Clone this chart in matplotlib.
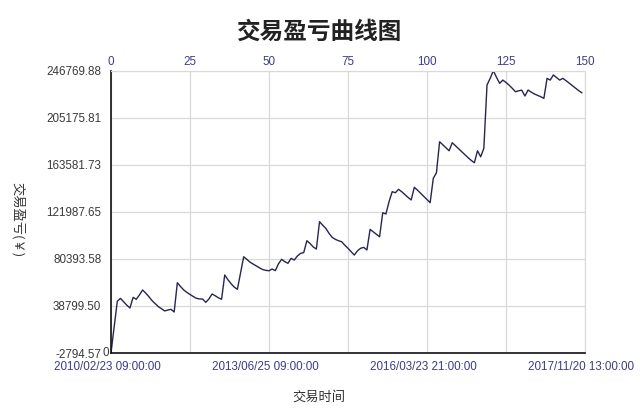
import matplotlib
matplotlib.use("Agg")
import matplotlib.pyplot as plt
from matplotlib.transforms import ScaledTranslation

plt.rcParams['font.family'] = ['Liberation Sans', 'Noto Sans CJK SC', 'DejaVu Sans']

title = "交易盈亏曲线图"
xlabel = "交易时间"
ylabel = "交易盈亏(￥)"

pnl = [
    -2794.57, 20000, 43000, 45500, 42500, 39500, 37000, 46400, 44700, 48500,
    52900, 50200, 47000, 43500, 40800, 38200, 36300, 34400, 35200, 35800,
    33450, 59350, 56000, 53000, 50800, 49000, 47200, 45600, 45000, 44900,
    42000, 45000, 49400, 47800, 46000, 44700, 66200, 62000, 58500, 55500,
    53500, 68000, 82300, 80000, 77500, 75800, 74000, 72500, 71000, 70300,
    69900, 71500, 70000, 76000, 80000, 78000, 76500, 80900, 79400, 83000,
    85300, 86000, 96500, 94000, 91000, 89100, 113300, 110200, 107400, 103000,
    99500, 97700, 96500, 95600, 92500, 89800, 86800, 83800, 87500, 89800,
    90600, 88300, 106500, 104300, 102000, 100000, 121200, 120100, 131000, 139800,
    138900, 141900, 139800, 137300, 134800, 132500, 143700, 141200, 138400, 135500,
    132800, 130100, 151600, 156600, 184000, 181300, 178600, 176000, 183100, 180500,
    177800, 175200, 172500, 169900, 167500, 165400, 176000, 170700, 178200, 234100,
    240000, 246769.88, 241000, 235600, 238500, 236400, 234000, 231200, 228200, 229000,
    229600, 224400, 229700, 227800, 226200, 225000, 223800, 222300, 240000, 238500,
    243000, 240800, 238500, 240000, 238000, 235800, 233500, 231500, 229200, 227300,
]

y_ticks = [-2794.57, 38799.50, 80393.58, 121987.65, 163581.73, 205175.81, 246769.88]
top_ticks = [0, 25, 50, 75, 100, 125, 150]
date_ticks = [0, 50, 100, 150]
date_labels = ["2010/02/23 09:00:00", "2013/06/25 09:00:00",
               "2016/03/23 21:00:00", "2017/11/20 13:00:00"]

fig = plt.figure(figsize=(6.4, 4.09), dpi=100)
ax = fig.add_axes([0.1734, 0.1369, 0.7406, 0.6902])

ax.plot(range(len(pnl)), pnl, color='#26264e', lw=1.0)

ax.set_xlim(0, 150)
ax.set_ylim(y_ticks[0], y_ticks[-1])

ax.set_yticks(y_ticks)
ax.set_yticklabels([f"{v:.2f}" for v in y_ticks])
ax.set_xticks(top_ticks)
ax.set_xticklabels([date_labels[date_ticks.index(t)] if t in date_ticks else "" for t in top_ticks])

ax.grid(True, color='#d9d9d9', lw=0.9)
ax.set_axisbelow(True)

ax.tick_params(axis='y', length=0, pad=7, labelsize=8.4, labelcolor='#3a3a3a')
ax.tick_params(axis='x', length=0, pad=6, labelsize=8.4, labelcolor='#3c3c8a')

shift = ScaledTranslation(-4 / 100, 0, fig.dpi_scale_trans)
for lbl in ax.get_xticklabels():
    lbl.set_transform(lbl.get_transform() + shift)

for s in ['top', 'right']:
    ax.spines[s].set_color('#d9d9d9')
for s in ['left', 'bottom']:
    ax.spines[s].set_color('#111111')
    ax.spines[s].set_linewidth(1.2)

sec = ax.secondary_xaxis('top')
sec.set_xticks(top_ticks)
sec.set_xticklabels([str(t) for t in top_ticks])
sec.tick_params(length=0, pad=2, labelsize=8.4, labelcolor='#3c3c8a')
sec.spines['top'].set_visible(False)

ax.text(-0.004, 0.0, "0", transform=ax.transAxes, ha='right', va='center',
        fontsize=8.4, color='#3a3a3a')

fig.text(0.5, 0.922, title, ha='center', va='center', fontsize=17,
         fontweight='heavy', color='#222222', family=['Noto Sans CJK SC', 'DejaVu Sans'])
fig.text(0.498, 0.03, xlabel, ha='center', va='center', fontsize=9.5,
         color='#333333', family=['Noto Sans CJK SC', 'DejaVu Sans'])
fig.text(0.028, 0.462, ylabel, ha='center', va='center', fontsize=9.5,
         rotation=-90, color='#333333', family=['Noto Sans CJK SC', 'DejaVu Sans'])

fig.savefig("out.png", dpi=100, facecolor='white')
